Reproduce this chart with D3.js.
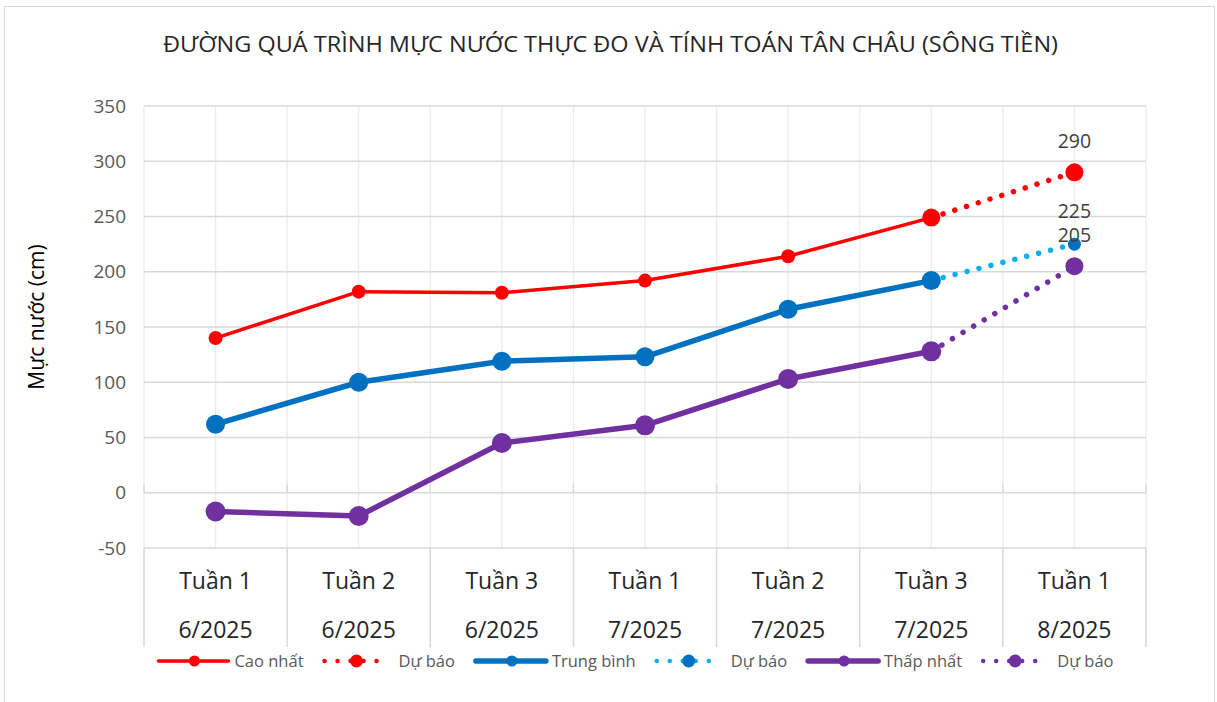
<!DOCTYPE html>
<html>
<head>
<meta charset="utf-8">
<script src="https://cdn.jsdelivr.net/npm/d3@7"></script>
<style>
  body{margin:0;background:#fff;overflow:hidden;}
  svg{display:block;}
  text{font-family:"Open Sans",sans-serif;}
</style>
</head>
<body>
<div id="chart"></div>
<script>
const weeks=["Tuần 1","Tuần 2","Tuần 3","Tuần 1","Tuần 2","Tuần 3","Tuần 1"];
const months=["6/2025","6/2025","6/2025","7/2025","7/2025","7/2025","8/2025"];
const caoNhat=[140,182,181,192,214,249,null];
const duBaoCao=[null,null,null,null,null,249,290];
const trungBinh=[62,100,119,123,166,192,null];
const duBaoTB=[null,null,null,null,null,192,225];
const thapNhat=[-17,-21,45,61,103,128,null];
const duBaoThap=[null,null,null,null,null,128,205];
const yTicks=[-50,0,50,100,150,200,250,300,350];

const w=1217, h=702;
const plotLeft=144, plotRight=1146, plotTop=106, plotBottom=548, labelBottom=647;

const svg=d3.select("#chart").append("svg").attr("width",w).attr("height",h);
svg.append("rect").attr("x",4.5).attr("y",6.5).attr("width",1210).attr("height",710)
   .attr("fill","#fff").attr("stroke","#d9d9d9");

const xScale=d3.scaleBand().domain(d3.range(weeks.length)).range([plotLeft,plotRight]);
const bw=xScale.bandwidth();
const cx=i=>xScale(i)+bw/2;
const yScale=d3.scaleLinear().domain([-50,350]).range([plotBottom,plotTop]);

// gridlines
svg.append("g").selectAll("line").data(d3.range(weeks.length)).join("line")
   .attr("x1",d=>cx(d)).attr("x2",d=>cx(d)).attr("y1",plotTop).attr("y2",plotBottom)
   .attr("stroke","#ececec").attr("stroke-width",1.3);
svg.append("g").selectAll("line").data(d3.range(weeks.length+1)).join("line")
   .attr("x1",d=>plotLeft+d*bw).attr("x2",d=>plotLeft+d*bw).attr("y1",plotTop).attr("y2",plotBottom)
   .attr("stroke","#ececec").attr("stroke-width",1.3);
svg.append("g").selectAll("line").data(yTicks).join("line")
   .attr("x1",plotLeft).attr("x2",plotRight).attr("y1",d=>yScale(d)).attr("y2",d=>yScale(d))
   .attr("stroke","#d9d9d9").attr("stroke-width",1.4);
// category boundaries through label area + ticks on zero line
svg.append("g").selectAll("line").data(d3.range(weeks.length+1)).join("line")
   .attr("x1",d=>plotLeft+d*bw).attr("x2",d=>plotLeft+d*bw).attr("y1",plotBottom).attr("y2",labelBottom)
   .attr("stroke","#d9d9d9").attr("stroke-width",1.5);
svg.append("g").selectAll("line").data(d3.range(weeks.length+1)).join("line")
   .attr("x1",d=>plotLeft+d*bw).attr("x2",d=>plotLeft+d*bw).attr("y1",yScale(0)-8).attr("y2",yScale(0))
   .attr("stroke","#d9d9d9").attr("stroke-width",1.5);

// y axis
const yAxis=d3.axisLeft(yScale).tickValues(yTicks).tickSize(0).tickPadding(0).tickFormat(d=>String(d));
const yg=svg.append("g").attr("transform",`translate(${plotLeft-18},0)`).call(yAxis);
yg.select(".domain").remove();
yg.selectAll("text").attr("font-family","Open Sans").attr("font-size",19).attr("fill","#595959");

svg.append("text").text("Mực nước (cm)")
   .attr("transform","rotate(-90)").attr("x",-317).attr("y",44)
   .attr("text-anchor","middle").attr("font-size",21).attr("fill","#000");

// category labels
const cat=svg.append("g");
cat.selectAll(".wk").data(weeks).join("text").attr("class","wk")
   .attr("x",(d,i)=>cx(i)).attr("y",589).attr("text-anchor","middle")
   .attr("font-size",23).attr("fill","#262626").text(d=>d);
cat.selectAll(".mo").data(months).join("text").attr("class","mo")
   .attr("x",(d,i)=>cx(i)).attr("y",638).attr("text-anchor","middle")
   .attr("font-size",23).attr("fill","#262626").text(d=>d);

// title
svg.append("text").text("ĐƯỜNG QUÁ TRÌNH MỰC NƯỚC THỰC ĐO VÀ TÍNH TOÁN TÂN CHÂU (SÔNG TIỀN)")
   .attr("x",163).attr("y",52).attr("font-size",22).attr("fill","#262626")
   .attr("textLength",895).attr("lengthAdjust","spacingAndGlyphs");

const line=d3.line().defined(d=>d!=null).x((d,i)=>cx(i)).y(d=>yScale(d));

const series=[
  {name:"Cao nhất",data:caoNhat,color:"#ff0000",width:3.5,r:7,dotted:false},
  {name:"Dự báo",data:duBaoCao,color:"#ff0000",width:6,r:9,dotted:true,marker:"#ff0000",label:true},
  {name:"Trung bình",data:trungBinh,color:"#0070c0",width:5.5,r:9.5,dotted:false},
  {name:"Dự báo",data:duBaoTB,color:"#00b0f0",width:6,r:6.5,dotted:true,marker:"#0070c0",label:true},
  {name:"Thấp nhất",data:thapNhat,color:"#7030a0",width:5.5,r:10,dotted:false},
  {name:"Dự báo",data:duBaoThap,color:"#7030a0",width:6,r:9,dotted:true,marker:"#7030a0",label:true}
];

const linesG=svg.append("g"), markG=svg.append("g"), labelG=svg.append("g");
series.forEach(s=>{
  linesG.append("path").datum(s.data).attr("d",line).attr("fill","none")
   .attr("stroke",s.color).attr("stroke-width",s.dotted?5.5:s.width)
   .attr("stroke-linecap","round").attr("stroke-linejoin","round")
   .attr("stroke-dasharray",s.dotted?"0.01 12.3":null);
});
// forecast markers first so the observed markers sit on top where they share a point
[...series].sort((a,b)=>b.dotted-a.dotted).forEach(s=>{
  const pts=s.data.map((v,i)=>[v,i]).filter(d=>d[0]!=null);
  markG.append("g").selectAll("circle").data(pts).join("circle")
   .attr("cx",d=>cx(d[1])).attr("cy",d=>yScale(d[0])).attr("r",s.r)
   .attr("fill",s.marker||s.color);
  if(s.label){
    const last=pts[pts.length-1];
    labelG.append("text").text(last[0]).attr("x",cx(last[1]))
     .attr("y",yScale(last[0])-(last[0]===225?26:24))
     .attr("text-anchor","middle").attr("font-size",19.5).attr("fill","#404040");
  }
});

// legend
const legend=svg.append("g");
let lx=0;
series.forEach(s=>{
  const item=legend.append("g").attr("transform",`translate(${lx},0)`);
  const len=s.dotted?64:72;
  const gap=s.dotted?12:6;
  item.append("line").attr("x1",2).attr("x2",len).attr("y1",0).attr("y2",0)
      .attr("stroke",s.color).attr("stroke-width",s.dotted?4.5:s.width)
      .attr("stroke-linecap","round")
      .attr("stroke-dasharray",s.dotted?"0.01 13":null);
  item.append("circle").attr("cx",len/2+2).attr("cy",0).attr("r",s.dotted?6.5:5.5)
      .attr("fill",s.marker||s.color);
  const t=item.append("text").text(s.name).attr("x",len+gap).attr("y",6)
      .attr("font-size",16.5).attr("fill","#595959");
  lx+=len+gap+t.node().getComputedTextLength()+19;
});
legend.attr("transform",`translate(${635-(lx-19)/2},661)`);
</script>
</body>
</html>
